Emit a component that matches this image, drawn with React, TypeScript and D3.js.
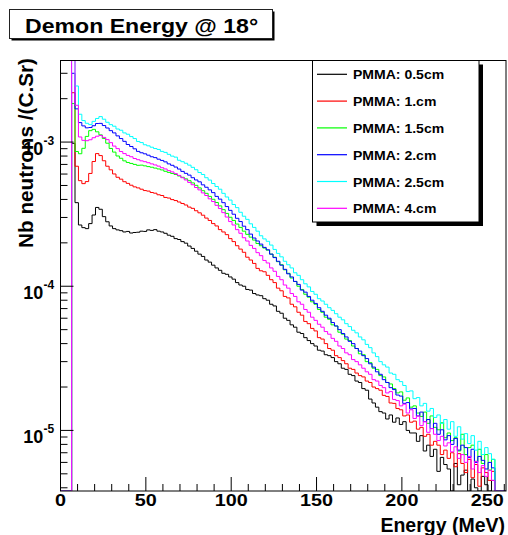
import React from 'react';
import * as d3 from 'd3';

const W = 508;
const H = 535;
const FONT = "'Liberation Sans', Arial, Helvetica, sans-serif";

// histogram binning (MeV)
const BIN_START = 6.5;
const BIN_WIDTH = 2;
const UNIT = 1e-6; // values below are in units of 1e-6 neutrons/(C.Sr)

const black = [
  980, 380, 266, 255, 251, 272, 312, 352, 342, 304,
  280, 262, 251, 246, 243, 238, 240, 234, 236, 237,
  241, 240, 246, 244, 247, 241, 238, 233, 226, 222,
  214, 211, 204, 199, 190, 183, 175, 167, 161, 152,
  147, 140, 134, 129, 123, 121, 116, 112, 106, 102,
  100, 95, 94, 89, 87, 86, 82, 80, 75, 73,
  67, 65, 60, 58, 54, 52, 48, 47, 44, 42,
  40, 38.5, 36, 35.5, 33.5, 33, 32, 30, 29, 27,
  26.5, 24.5, 24, 22, 21.5, 19.5, 19, 16.5, 15.5, 14.5,
  13.5, 13.2, 12.0, 12.8, 11.4, 12.2, 11.0, 11.5, 10.0, 9.6,
  9.6, 8.4, 9.2, 7.2, 7.9, 6.6, 7.4, 5.2, 6.5, 5.8,
  5.4, 0, 5.9, 4.2, 4.9, 5.3, 0, 4.6, 4.0, 0,
  4.8, 4.2, 0, 4.5,
];

const red = [
  2200, 680, 540, 515, 532, 606, 733, 832, 806, 742,
  680, 642, 601, 570, 553, 531, 517, 502, 489, 481,
  471, 461, 457, 447, 442, 431, 426, 413, 409, 399,
  393, 384, 375, 366, 354, 347, 334, 323, 311, 297,
  286, 272, 262, 247, 238, 228, 214, 204, 191, 181,
  172, 159, 152, 144, 133, 128, 126, 119, 111, 106,
  97, 93, 85, 83, 75, 72, 66, 63, 57, 55,
  51, 49, 44, 43, 40, 37, 36, 33, 32, 30.5,
  29, 27, 26.5, 25, 24, 23.5, 22, 21.5, 20, 19.5,
  19, 17.5, 17.2, 15.5, 15.4, 14.2, 13.9, 12.6, 12.8, 11.4,
  11.6, 10.2, 10.5, 9.1, 9.4, 7.9, 8.4, 7.9, 6.8, 7.3,
  6.4, 7.0, 5.6, 6.9, 5.9, 5.1, 6.3, 4.7, 5.8, 4.1,
  5.5, 5.1, 4.5, 5.2,
];

const green = [
  1850, 860, 830, 905, 1095, 1200, 1225, 1178, 1122, 1058,
  982, 903, 852, 801, 772, 741, 722, 711, 700, 690,
  692, 684, 676, 669, 660, 651, 641, 627, 616, 606,
  596, 582, 570, 556, 540, 521, 501, 481, 460, 441,
  420, 401, 381, 361, 340, 320, 301, 286, 270, 256,
  241, 229, 219, 209, 198, 191, 184, 178, 167, 159,
  148, 141, 130, 123, 114, 108, 100, 95, 88, 84,
  78, 75, 69, 66, 61, 59, 54, 53, 48, 46.5,
  43, 42, 38.5, 37, 34, 33.5, 30, 29.5, 27, 26.5,
  24, 23.5, 21.5, 21, 19.5, 18.2, 18.5, 16.2, 16.8, 14.5,
  14.8, 13.2, 12.5, 13.4, 11.2, 12.6, 10.5, 10.1, 11.3, 8.9,
  9.6, 8.5, 8.9, 7.2, 9.4, 6.8, 7.6, 7.9, 6.1, 7.4,
  5.9, 6.8, 5.3, 6.3,
];

const blue = [
  3000, 1700, 1365, 1295, 1255, 1262, 1298, 1345, 1348, 1302,
  1252, 1200, 1158, 1104, 1058, 1012, 962, 932, 898, 862,
  843, 829, 811, 791, 780, 761, 746, 729, 706, 690,
  671, 650, 626, 607, 590, 566, 546, 530, 505, 486,
  466, 446, 420, 402, 380, 357, 336, 316, 296, 281,
  261, 247, 230, 216, 206, 196, 186, 179, 167, 158,
  149, 140, 131, 122, 116, 108, 103, 94, 91, 85,
  80, 76, 71, 67, 63, 60, 56, 53, 50, 47,
  44.5, 41.5, 40, 37, 35.5, 33, 31.5, 29, 27.5, 25.5,
  24.5, 22.5, 21.5, 19.8, 19.2, 17.6, 17.3, 15.4, 15.6, 14.1,
  14.2, 12.6, 13.4, 11.5, 11.9, 10.3, 11.2, 9.4, 10.1, 8.6,
  9.2, 8.0, 8.8, 7.3, 7.9, 7.6, 6.5, 7.4, 6.0, 6.6,
  6.2, 5.4, 6.0, 5.5,
];

const cyan = [
  6000, 2450, 1560, 1410, 1350, 1322, 1392, 1458, 1502, 1441,
  1372, 1321, 1288, 1232, 1208, 1158, 1133, 1092, 1058, 1010,
  992, 958, 942, 921, 902, 889, 862, 848, 822, 799,
  786, 748, 731, 713, 692, 668, 643, 615, 596, 566,
  545, 516, 492, 471, 441, 416, 396, 369, 351, 326,
  306, 291, 271, 256, 241, 224, 213, 205, 193, 180,
  169, 160, 149, 141, 134, 124, 119, 111, 104, 99,
  92, 88, 82, 79, 75, 71, 68, 64.5, 61, 58.5,
  55, 52.5, 49.5, 47.5, 44.5, 42.5, 39.5, 37.5, 34.5, 32.5,
  30, 28.5, 27.5, 25, 24.5, 22.5, 21.8, 20.5, 18.6, 18.8,
  16.6, 16.9, 14.8, 15.4, 13.6, 14.2, 12.3, 12.8, 11.2, 11.9,
  10.2, 11.5, 9.1, 10.6, 8.7, 9.5, 8.1, 9.2, 7.3, 8.4,
  6.8, 7.6, 6.9, 6.3,
];

const magenta = [
  6000, 1800, 1085, 1028, 1022, 1038, 1072, 1098, 1112, 1078,
  1040, 991, 938, 901, 860, 832, 808, 791, 769, 755,
  741, 731, 719, 706, 694, 681, 664, 651, 634, 621,
  604, 587, 566, 546, 525, 506, 484, 466, 444, 426,
  404, 387, 364, 346, 324, 302, 281, 266, 247, 233,
  217, 206, 192, 183, 171, 163, 151, 145, 134, 127,
  117, 111, 102, 97, 89, 85, 78, 75, 69, 66,
  61, 58, 54.5, 52, 48.5, 46.5, 43.5, 41.5, 38.5, 37,
  34.5, 33.5, 31, 30, 28.5, 27, 25.5, 24.5, 22.5, 22,
  20.5, 19.8, 18.2, 18.6, 16.4, 16.1, 14.8, 15.2, 13.2, 13.9,
  12.1, 12.6, 10.8, 11.5, 9.7, 10.3, 9.4, 8.5, 9.1, 7.8,
  8.2, 7.1, 7.7, 6.4, 6.8, 6.0, 6.6, 5.4, 6.1, 5.1,
  5.7, 4.8, 5.3, 4.5,
];

const series = [
  { label: 'PMMA: 0.5cm', color: '#000000', values: black },
  { label: 'PMMA: 1.cm', color: '#ff0000', values: red },
  { label: 'PMMA: 1.5cm', color: '#00ff00', values: green },
  { label: 'PMMA: 2.cm', color: '#0000ff', values: blue },
  { label: 'PMMA: 2.5cm', color: '#00ffff', values: cyan },
  { label: 'PMMA: 4.cm', color: '#ff00ff', values: magenta },
];

const xMajor = [0, 50, 100, 150, 200, 250];
const yDecades = [-3, -4, -5];

const frame = { left: 60.5, top: 60.5, right: 506, bottom: 491 };

const x = d3.scaleLinear().domain([0, 261]).range([frame.left, frame.right]);
const y = d3.scaleLog().domain([3.8e-6, 3.68e-3]).range([frame.bottom, frame.top]);

function histPath(values: number[]): string {
  const yb = frame.bottom;
  let d = `M${x(0)},${yb}H${x(BIN_START)}`;
  values.forEach((v, i) => {
    const val = v * UNIT;
    const yy = val > 0 ? Math.max(y(val), frame.top - 20) : yb;
    d += `V${yy}H${x(BIN_START + (i + 1) * BIN_WIDTH)}`;
  });
  d += `V${yb}H${x(261)}`;
  return d;
}

export default function App() {
  const xMinor = d3.range(0, 261, 10).filter((t) => !xMajor.includes(t));
  const yMinor: number[] = [];
  for (let e = -6; e <= -3; e++) {
    for (let k = 2; k <= 9; k++) {
      const v = k * Math.pow(10, e);
      if (v >= 3.8e-6 && v <= 3.68e-3) yMinor.push(v);
    }
  }

  const legX = 312.5;
  const legY = 60.5;
  const legW = 166.5;
  const legH = 161.5;

  return (
    <svg
      width={W}
      height={H}
      style={{ position: 'absolute', left: 0, top: 0, background: '#fff' }}
      fontFamily={FONT}
      fontWeight="bold"
    >
      <defs>
        <clipPath id="frameClip">
          <rect x={frame.left} y={frame.top} width={frame.right - frame.left} height={frame.bottom - frame.top} />
        </clipPath>
      </defs>
      <rect width={W} height={H} fill="#fff" />

      {/* histograms */}
      <g clipPath="url(#frameClip)" fill="none" strokeWidth={1}>
        {series.map((s) => (
          <path key={s.label} d={histPath(s.values)} stroke={s.color} />
        ))}
      </g>

      {/* frame */}
      <rect
        x={frame.left}
        y={frame.top}
        width={frame.right - frame.left}
        height={frame.bottom - frame.top}
        fill="none"
        stroke="#000"
      />

      {/* x axis ticks */}
      {xMajor.map((t) => (
        <g key={'xm' + t}>
          <line x1={x(t)} x2={x(t)} y1={frame.bottom} y2={frame.bottom - 14} stroke="#000" />
          <text
            transform={`translate(${x(t)},506) scale(1.2,1)`}
            textAnchor="middle"
            fontSize={16.5}
          >
            {t}
          </text>
        </g>
      ))}
      {xMinor.map((t) => (
        <line key={'xn' + t} x1={x(t)} x2={x(t)} y1={frame.bottom} y2={frame.bottom - 7} stroke="#000" />
      ))}
      <text x={505} y={532} textAnchor="end" fontSize={19.5}>
        Energy (MeV)
      </text>

      {/* y axis ticks */}
      {yDecades.map((e) => {
        const yy = y(Math.pow(10, e));
        return (
          <g key={'yd' + e}>
            <line x1={frame.left} x2={frame.left + 13} y1={yy} y2={yy} stroke="#000" />
            <text x={43.3} y={yy + 12.5} textAnchor="end" fontSize={18}>
              10
            </text>
            <text x={43.5} y={yy + 3} fontSize={12}>
              {`-${-e}`}
            </text>
          </g>
        );
      })}
      {yMinor.map((v) => (
        <line key={'yn' + v} x1={frame.left} x2={frame.left + 7} y1={y(v)} y2={y(v)} stroke="#000" />
      ))}
      <text transform="translate(33,58) rotate(-90)" textAnchor="end" fontSize={19.5} textLength={190} lengthAdjust="spacingAndGlyphs">
        Nb neutrons /(C.Sr)
      </text>

      {/* title */}
      <rect x={11.5} y={11.5} width={263} height={29} fill="#000" />
      <rect x={9.5} y={9.5} width={263} height={29} fill="#fff" stroke="#222" />
      <text transform="translate(25,32.5) scale(1.1,1)" fontSize={21}>
        Demon Energy @ 18°
      </text>

      {/* legend */}
      <rect x={legX + 4} y={legY + 4} width={legW} height={legH} fill="#000" />
      <rect x={legX} y={legY} width={legW} height={legH} fill="#fff" stroke="#000" />
      {series.map((s, i) => {
        const ly = 74.3 + i * 26.8;
        return (
          <g key={'leg' + s.label}>
            <line x1={317} x2={347} y1={ly} y2={ly} stroke={s.color} strokeWidth={1.2} />
            <text transform={`translate(353,${ly + 5}) scale(1.17,1)`} fontSize={12}>
              {s.label}
            </text>
          </g>
        );
      })}
    </svg>
  );
}
